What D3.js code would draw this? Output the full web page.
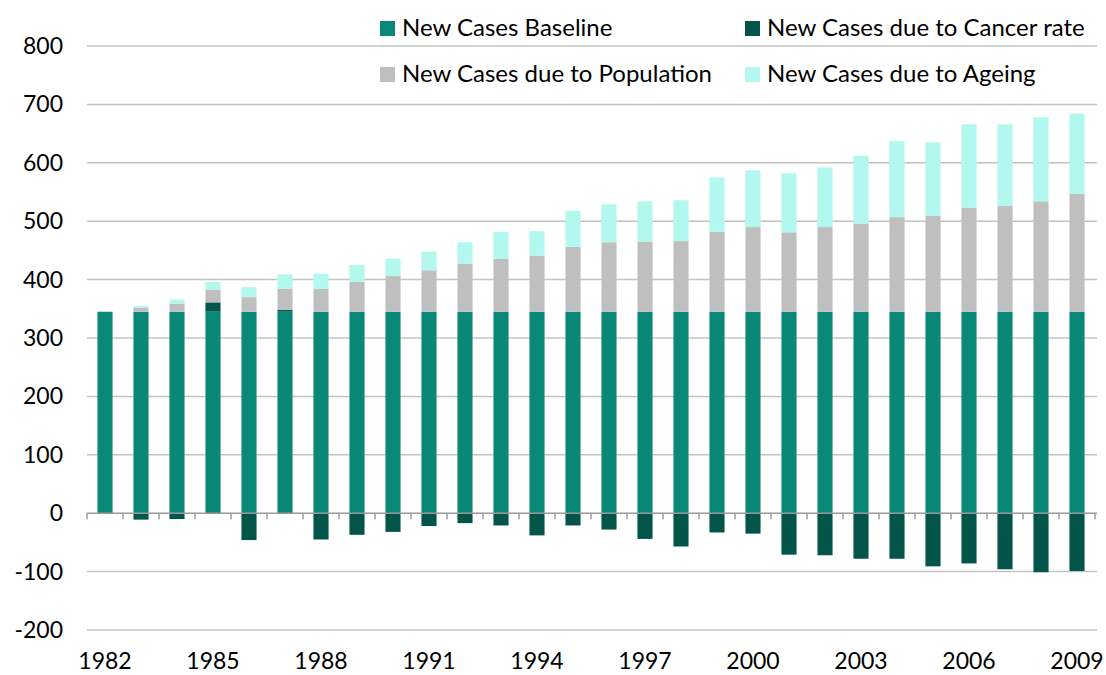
<!DOCTYPE html>
<html>
<head>
<meta charset="utf-8">
<script src="https://cdn.jsdelivr.net/npm/d3@7"></script>
<style>
  body { margin: 0; background: #fff; }
  text { font-family: Lato, "Open Sans", sans-serif; fill: #000; }
</style>
</head>
<body>
<script>
let years = [1982, 1983, 1984, 1985, 1986, 1987, 1988, 1989, 1990, 1991, 1992, 1993, 1994, 1995,
  1996, 1997, 1998, 1999, 2000, 2001, 2002, 2003, 2004, 2005, 2006, 2007, 2008, 2009]
let baseline = [345, 345, 345, 345, 345, 345, 345, 345, 345, 345, 345, 345, 345, 345,
  345, 345, 345, 345, 345, 345, 345, 345, 345, 345, 345, 345, 345, 345]
let cancerRate = [0, -11, -10, 16, -46, 3, -45, -37, -32, -22, -17, -21, -38, -21,
  -28, -44, -57, -33, -35, -71, -72, -78, -78, -91, -86, -96, -101, -99]
let population = [0, 7, 14, 22, 25, 36, 39, 51, 61, 71, 82, 91, 96, 111,
  119, 120, 121, 137, 145, 136, 145, 151, 162, 164, 178, 181, 189, 202]
let ageing = [0, 3, 7, 13, 17, 25, 26, 29, 30, 32, 37, 46, 42, 62,
  65, 69, 70, 93, 97, 101, 102, 116, 130, 126, 143, 140, 144, 137]
let yTicks = [-200, -100, 0, 100, 200, 300, 400, 500, 600, 700, 800]
let xLabels = [1982, 1985, 1988, 1991, 1994, 1997, 2000, 2003, 2006, 2009]

let seriesNames = ['New Cases Baseline', 'New Cases due to Cancer rate',
  'New Cases due to Population', 'New Cases due to Ageing']
let colors = ['#098878', '#03554a', '#bfbfbf', '#b3f8ef']

let W = 1106, H = 675
let plotLeft = 87, plotRight = 1095, plotTop = 46, plotBottom = 630

let svg = d3.select('body').append('svg')
  .attr('width', W).attr('height', H)

let rows = years.map((yr, i) => ({
  year: yr, s0: baseline[i], s1: cancerRate[i], s2: population[i], s3: ageing[i]
}))

// diverging offset: positive parts stack up from 0, negative cancer-rate parts hang below 0
let stack = d3.stack()
  .keys(['s0', 's1', 's2', 's3'])
  .offset(d3.stackOffsetDiverging)
let stacked = stack(rows)

let x = d3.scaleBand().domain(years).range([plotLeft, plotRight])
  .paddingInner(0.58).paddingOuter(0.29)
let y = d3.scaleLinear().domain([-200, 800]).range([plotBottom, plotTop])

// gridlines
svg.append('g').selectAll('line')
  .data(yTicks.filter(t => t !== 0))
  .join('line')
  .attr('x1', plotLeft).attr('x2', plotRight + 2)
  .attr('y1', d => y(d)).attr('y2', d => y(d))
  .attr('stroke', '#c4c4c4').attr('stroke-width', 1.5)

// bars
svg.append('g').selectAll('g')
  .data(stacked)
  .join('g')
  .attr('fill', (d, i) => colors[i])
  .selectAll('rect')
  .data(d => d)
  .join('rect')
  .attr('x', d => x(d.data.year))
  .attr('width', x.bandwidth())
  .attr('y', d => y(Math.max(d[0], d[1])))
  .attr('height', d => Math.abs(y(d[0]) - y(d[1])))

// zero axis with ticks between categories
let axisG = svg.append('g')
axisG.append('line')
  .attr('x1', plotLeft).attr('x2', plotRight + 2)
  .attr('y1', y(0)).attr('y2', y(0))
  .attr('stroke', '#9a9a9a').attr('stroke-width', 1.5)
axisG.selectAll('line.tick')
  .data(years.concat([null]))
  .join('line')
  .attr('class', 'tick')
  .attr('x1', (d, i) => plotLeft + i * x.step())
  .attr('x2', (d, i) => plotLeft + i * x.step())
  .attr('y1', y(0)).attr('y2', y(0) + 6)
  .attr('stroke', '#9a9a9a').attr('stroke-width', 1.5)

// y labels
svg.append('g').selectAll('text')
  .data(yTicks)
  .join('text')
  .attr('x', 63).attr('y', d => y(d))
  .attr('dy', '0.35em')
  .attr('text-anchor', 'end')
  .attr('font-size', 23)
  .text(d => d)

// x labels
svg.append('g').selectAll('text')
  .data(xLabels)
  .join('text')
  .attr('x', d => x(d) + x.bandwidth() / 2)
  .attr('y', 669)
  .attr('text-anchor', 'middle')
  .attr('font-size', 23)
  .text(d => d)

// legend
let legendPos = [[380, 28], [745, 28], [380, 74], [745, 74]]
let legend = svg.append('g').selectAll('g')
  .data(seriesNames)
  .join('g')
  .attr('transform', (d, i) => `translate(${legendPos[i][0]},${legendPos[i][1]})`)
legend.append('rect')
  .attr('x', 0).attr('y', -7).attr('width', 15).attr('height', 15)
  .attr('fill', (d, i) => colors[i])
legend.append('text')
  .attr('x', 22).attr('y', 0).attr('dy', '0.35em')
  .attr('font-size', 24)
  .text(d => d)
</script>
</body>
</html>
